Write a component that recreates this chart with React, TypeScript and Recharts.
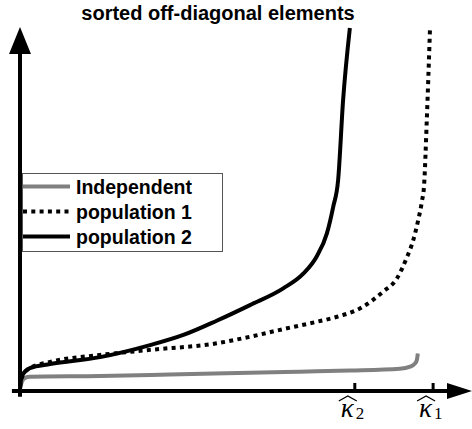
import { LineChart, Line, XAxis, YAxis, ReferenceLine, ReferenceDot, Legend } from "recharts";

// curve samples: [index position, value]
const independent = [
  [0, 0.6], [0.4, 2.5], [1.1, 3.6], [2.2, 3.9], [17.8, 4.1], [33.3, 4.5], [51.1, 5.0],
  [62.2, 5.3], [73.3, 5.6], [84.4, 6.1], [86.7, 6.7], [87.8, 7.6], [88.2, 8.6], [88.4, 10.3],
];
const population1 = [
  [0, 1.1], [0.4, 3.6], [1.1, 5.2], [2.2, 6.3], [6.7, 8.0], [17.8, 9.9], [28.9, 11.3],
  [43.7, 13.1], [51.1, 14.9], [58.5, 17.0], [65.9, 19.0], [69.6, 20.1], [76.3, 23.2],
  [80.7, 27.3], [83.7, 30.8], [85.9, 36.5], [87.4, 41.5], [88.5, 47.0], [89.3, 52.0],
  [89.8, 56.6], [90.4, 74.5], [91.1, 99.2],
];
const population2 = [
  [0, 0.5], [0.2, 3], [0.7, 4.7], [2.2, 6.3], [6.7, 7.4], [17.8, 9.3], [28.9, 12.6],
  [36.3, 15.4], [43.7, 19.3], [51.1, 23.6], [58.5, 28.2], [63.0, 32.3], [65.9, 36.9],
  [68.2, 43.3], [69.6, 50.6], [70.7, 58.0], [71.8, 79.9], [73.3, 99.7],
];

const seriesNames = ["Independent", "population 1", "population 2"];
const tickValues = [74.4, 91.8];
const tickSubscripts = ["2", "1"];

const toRows = (pts: number[][]) => pts.map(([x, y]) => ({ x, y }));

const series = [
  { name: seriesNames[0], data: toRows(independent), color: "#808080", dash: undefined },
  { name: seriesNames[1], data: toRows(population1), color: "#000000", dash: "4 4.3" },
  { name: seriesNames[2], data: toRows(population2), color: "#000000", dash: undefined },
];

const SANS = "'Liberation Sans', Arial, Helvetica, sans-serif";
const SERIF = "'Liberation Serif', 'Times New Roman', serif";

function KappaTick({ x, y, payload }: any) {
  const sub = tickSubscripts[tickValues.indexOf(payload.value)];
  return (
    <g>
      <line x1={x} x2={x} y1={y - 8} y2={y} stroke="#000" strokeWidth={3} />
      <path
        d={`M${x - 16},${y + 10} L${x - 7},${y + 5} L${x + 2},${y + 10}`}
        fill="none"
        stroke="#000"
        strokeWidth={1.3}
      />
      <text x={x - 7.5} y={y + 26} textAnchor="middle" fontFamily={SERIF} fontStyle="italic" fontSize={27}>
        κ
      </text>
      <text x={x + 1} y={y + 28} fontFamily={SERIF} fontSize={17}>
        {sub}
      </text>
    </g>
  );
}

function LegendBox() {
  return (
    <div
      style={{
        border: "1px solid #555",
        background: "#fff",
        width: 199,
        paddingBottom: 2,
        fontFamily: SANS,
        fontWeight: "bold",
        fontSize: 19.5,
        color: "#000",
      }}
    >
      {series.map((s) => (
        <div key={s.name} style={{ display: "flex", alignItems: "center", height: 25 }}>
          <svg width={47} height={25} style={{ flex: "none" }}>
            <line x1={0} x2={47} y1={12.5} y2={12.5} stroke={s.color} strokeWidth={4} strokeDasharray={s.dash} />
          </svg>
          <span style={{ marginLeft: 6, lineHeight: "25px", paddingTop: 2 }}>{s.name}</span>
        </div>
      ))}
    </div>
  );
}

export default function App() {
  return (
    <div style={{ position: "absolute", left: 0, top: 0, width: 472, height: 429, background: "#fff" }}>
      <div
        style={{
          position: "absolute",
          left: 0,
          top: 3,
          width: 436,
          textAlign: "center",
          fontFamily: SANS,
          fontWeight: "bold",
          fontSize: 20,
          lineHeight: "20px",
          zIndex: 2,
        }}
      >
        sorted off-diagonal elements
      </div>
      <LineChart width={472} height={429} margin={{ top: 27, right: 2, bottom: 0, left: 20 }}>
        <XAxis
          dataKey="x"
          type="number"
          domain={[0, 100]}
          ticks={tickValues}
          interval={0}
          axisLine={false}
          tickLine={false}
          tickSize={0}
          tickMargin={0}
          height={38}
          tick={<KappaTick />}
        />
        <YAxis type="number" domain={[0, 100]} hide />
        <ReferenceLine segment={[{ x: -1.8, y: 0 }, { x: 97, y: 0 }]} stroke="#000" strokeWidth={4} ifOverflow="visible" />
        <ReferenceLine segment={[{ x: 0, y: -1.6 }, { x: 0, y: 95 }]} stroke="#000" strokeWidth={4} ifOverflow="visible" />
        <ReferenceDot
          x={100}
          y={0}
          r={0}
          ifOverflow="visible"
          shape={(p: any) => (
            <polygon points={`${p.cx + 2},${p.cy} ${p.cx - 23},${p.cy - 8} ${p.cx - 23},${p.cy + 8}`} fill="#000" />
          )}
        />
        <ReferenceDot
          x={0}
          y={100}
          r={0}
          ifOverflow="visible"
          shape={(p: any) => (
            <polygon points={`${p.cx},${p.cy} ${p.cx - 11},${p.cy + 27} ${p.cx + 11},${p.cy + 27}`} fill="#000" />
          )}
        />
        {series.map((s) => (
          <Line
            key={s.name}
            name={s.name}
            data={s.data}
            dataKey="y"
            type="monotone"
            stroke={s.color}
            strokeWidth={4}
            strokeDasharray={s.dash}
            dot={false}
            activeDot={false}
            isAnimationActive={false}
          />
        ))}
        <Legend
          layout="vertical"
          align="center"
          verticalAlign="middle"
          wrapperStyle={{ left: 22, top: 173, width: "auto" }}
          content={<LegendBox />}
        />
      </LineChart>
    </div>
  );
}
